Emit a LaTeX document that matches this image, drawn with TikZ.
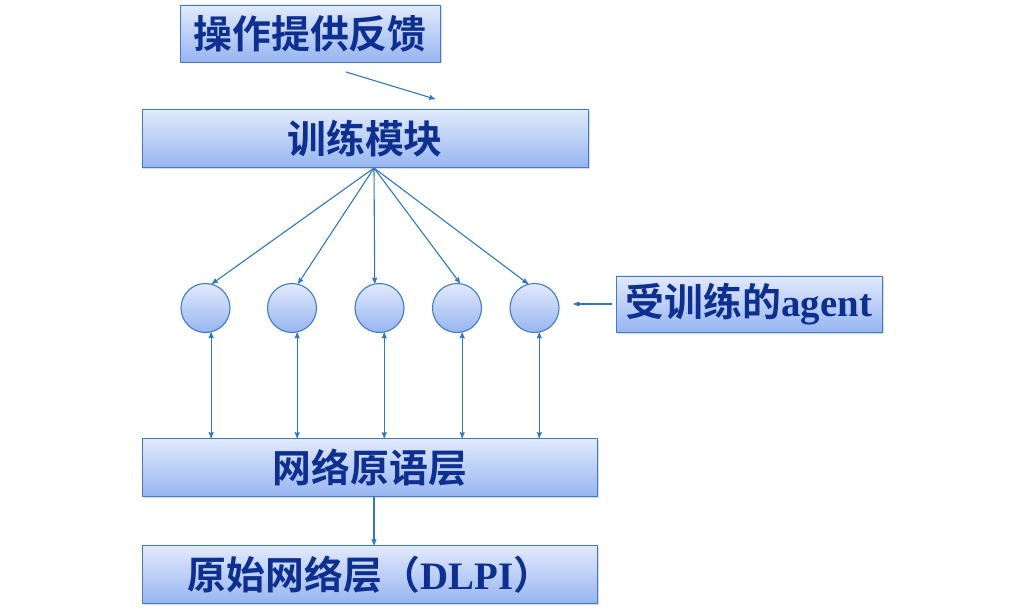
\documentclass[tikz,border=0pt]{standalone}
\usepackage{fontspec}
\setmainfont{Liberation Serif}
\newfontfamily\cjk[BoldFont={Noto Sans CJK SC Bold}]{Noto Sans CJK SC}
\usetikzlibrary{arrows,shadows}

\definecolor{boxline}{HTML}{3F7BC6}
\definecolor{boxtop}{HTML}{E2EAFC}
\definecolor{boxbot}{HTML}{97B5F1}
\definecolor{txtblue}{HTML}{0D2F8F}
\definecolor{linkblue}{HTML}{2F78BF}

\tikzset{
  blkbox/.style={draw=boxline, line width=0.9bp, top color=boxtop, bottom color=boxbot,
    drop shadow={shadow xshift=1.5bp, shadow yshift=-1.5bp, opacity=0.3},
    text=txtblue, font=\fontsize{39}{42}\selectfont\bfseries,
    minimum height=58bp, inner sep=0pt},
  agentnode/.style={circle, draw=boxline, line width=1.1bp, top color=boxtop, bottom color=boxbot,
    minimum size=49bp, inner sep=0pt},
  link/.style={draw=linkblue, line width=1.1bp},
}

\begin{document}
\begin{tikzpicture}[x=1bp,y=-1bp,>=stealth',line join=bevel]
%
  \useasboundingbox (0,0) rectangle (1022,612);
  \node (fb) at (310,33.5) [blkbox,minimum width=260bp,minimum height=57bp] {\cjk 操作提供反馈};
  \node (train) at (365,138.5) [blkbox,minimum width=446bp] {\cjk 训练模块};
  \node (a1) at (205.5,308) [agentnode] {};
  \node (a2) at (292,308) [agentnode] {};
  \node (a3) at (379.5,308) [agentnode] {};
  \node (a4) at (457,308) [agentnode] {};
  \node (a5) at (534.5,308) [agentnode] {};
  \node (agent) at (749,304) [blkbox,minimum width=266bp,minimum height=56bp] {{\cjk 受训练的}agent};
  \node (prim) at (370,467.5) [blkbox,minimum width=455bp] {\cjk 网络原语层};
  \node (raw) at (370,574.5) [blkbox,minimum width=455bp] {{\cjk 原始网络层（}DLPI{\cjk ）}};
%
  \coordinate (fbtail) at (346,72);
  \coordinate (fbhead) at (435,99);
  \draw [link,->] (fbtail) -- (fbhead);
  \coordinate (hub) at (374,168);
  \draw [link,->] (hub) -- (a1.75);
  \draw [link,->] (hub) -- (a2.76);
  \draw [link,->] (hub) -- (a3.101);
  \draw [link,->] (hub) -- (a4.83);
  \draw [link,->] (hub) -- (a5.105);
  \draw [link,<->] (a1.-77) -- (a1.-77 |- prim.north);
  \draw [link,<->] (a2.-78) -- (a2.-78 |- prim.north);
  \draw [link,<->] (a3.-79) -- (a3.-79 |- prim.north);
  \draw [link,<->] (a4.-78) -- (a4.-78 |- prim.north);
  \draw [link,<->] (a5.-79) -- (a5.-79 |- prim.north);
  \draw [link,->] ([xshift=-4bp]agent.west) -- ([xshift=14bp]a5.east |- agent.west);
  \draw [link,->] (prim.south -| hub) -- (raw.north -| hub);
%
\end{tikzpicture}
\end{document}
